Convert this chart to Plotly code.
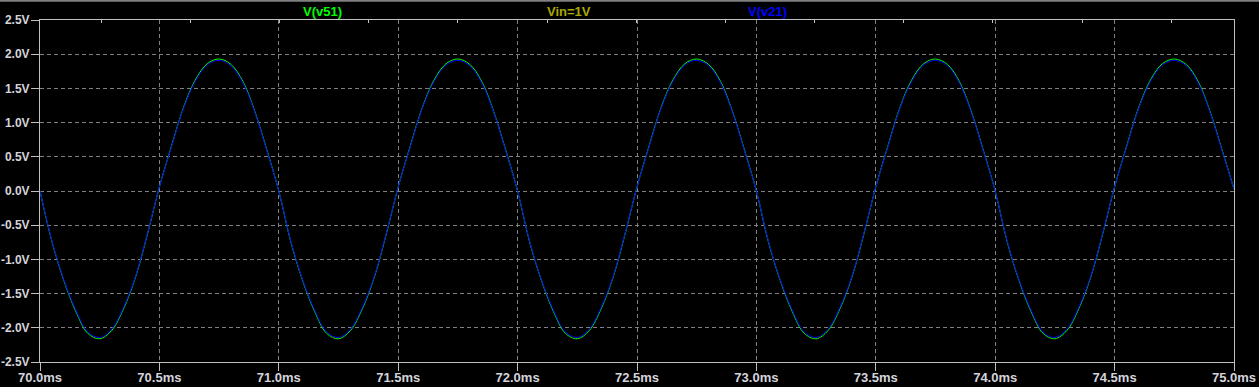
import plotly.graph_objects as go

# sample times (ms), 0.05 ms spacing
time_ms = [round(70.0 + 0.05 * i, 2) for i in range(101)]

# V(v21) (blue)
v21 = [
    0.00, -0.73, -1.30, -1.74, -2.06, -2.14, -2.02, -1.70, -1.25, -0.62,
    0.06, 0.64, 1.20, 1.60, 1.84, 1.91, 1.83, 1.58, 1.15, 0.59,
    0.00, -0.73, -1.30, -1.74, -2.06, -2.14, -2.02, -1.70, -1.25, -0.62,
    0.06, 0.64, 1.20, 1.60, 1.84, 1.91, 1.83, 1.58, 1.15, 0.59,
    0.00, -0.73, -1.30, -1.74, -2.06, -2.14, -2.02, -1.70, -1.25, -0.62,
    0.06, 0.64, 1.20, 1.60, 1.84, 1.91, 1.83, 1.58, 1.15, 0.59,
    0.00, -0.73, -1.30, -1.74, -2.06, -2.14, -2.02, -1.70, -1.25, -0.62,
    0.06, 0.64, 1.20, 1.60, 1.84, 1.91, 1.83, 1.58, 1.15, 0.59,
    0.00, -0.73, -1.30, -1.74, -2.06, -2.14, -2.02, -1.70, -1.25, -0.62,
    0.06, 0.64, 1.20, 1.60, 1.84, 1.91, 1.83, 1.58, 1.15, 0.59,
    0.03,
]

# V(v51) (green), almost identical, slightly larger swing
v51 = [
    0.00, -0.74, -1.31, -1.76, -2.08, -2.16, -2.04, -1.72, -1.26, -0.63,
    0.06, 0.65, 1.21, 1.62, 1.86, 1.93, 1.85, 1.60, 1.16, 0.60,
    0.00, -0.74, -1.31, -1.76, -2.08, -2.16, -2.04, -1.72, -1.26, -0.63,
    0.06, 0.65, 1.21, 1.62, 1.86, 1.93, 1.85, 1.60, 1.16, 0.60,
    0.00, -0.74, -1.31, -1.76, -2.08, -2.16, -2.04, -1.72, -1.26, -0.63,
    0.06, 0.65, 1.21, 1.62, 1.86, 1.93, 1.85, 1.60, 1.16, 0.60,
    0.00, -0.74, -1.31, -1.76, -2.08, -2.16, -2.04, -1.72, -1.26, -0.63,
    0.06, 0.65, 1.21, 1.62, 1.86, 1.93, 1.85, 1.60, 1.16, 0.60,
    0.00, -0.74, -1.31, -1.76, -2.08, -2.16, -2.04, -1.72, -1.26, -0.63,
    0.06, 0.65, 1.21, 1.62, 1.86, 1.93, 1.85, 1.60, 1.16, 0.60,
    0.03,
]

x_tick_vals = [70.0, 70.5, 71.0, 71.5, 72.0, 72.5, 73.0, 73.5, 74.0, 74.5, 75.0]
x_tick_labels = ["70.0ms", "70.5ms", "71.0ms", "71.5ms", "72.0ms", "72.5ms",
                 "73.0ms", "73.5ms", "74.0ms", "74.5ms", "75.0ms"]
y_tick_vals = [2.5, 2.0, 1.5, 1.0, 0.5, 0.0, -0.5, -1.0, -1.5, -2.0, -2.5]
y_tick_labels = ["2.5V", "2.0V", "1.5V", "1.0V", "0.5V", "0.0V",
                 "-0.5V", "-1.0V", "-1.5V", "-2.0V", "-2.5V"]

trace_names = ["V(v51)", "Vin=1V", "V(v21)"]

GRID = "#808080"
FRAME = "#c0c0c0"
LABEL = "#d4d4dc"
XTICKFONT = dict(family="Liberation Sans, Arial, sans-serif", size=13, color=LABEL, weight="bold")
YTICKFONT = dict(family="Liberation Sans, Arial, sans-serif", size=12, color=LABEL, weight="bold")
TITLEFONT_FAM = "Liberation Sans Narrow, Arial Narrow, Liberation Sans, Arial, sans-serif"

fig = go.Figure()
fig.add_trace(go.Scatter(x=time_ms, y=v51, mode="lines", name=trace_names[0],
                         line=dict(color="#00ff00", width=1, shape="spline")))
fig.add_trace(go.Scatter(x=time_ms, y=v21, mode="lines", name=trace_names[2],
                         line=dict(color="#0000ff", width=1, shape="spline")))

fig.update_layout(
    width=1259, height=387,
    margin=dict(l=40, r=25, t=20, b=25, autoexpand=False),
    paper_bgcolor="#000000", plot_bgcolor="#000000",
    showlegend=False,
    xaxis=dict(range=[70, 75], tickvals=x_tick_vals, ticktext=x_tick_labels,
               showgrid=True, gridcolor=GRID, gridwidth=1, griddash="4px,3px",
               zeroline=False, showline=True, linecolor=FRAME, linewidth=1, mirror=True,
               ticks="outside", ticklen=8, tickcolor=FRAME, tickwidth=1, automargin=False,
               ticklabelstandoff=-5,
               tickfont=XTICKFONT, fixedrange=True),
    yaxis=dict(range=[-2.5, 2.5], tickvals=y_tick_vals, ticktext=y_tick_labels,
               showgrid=True, gridcolor=GRID, gridwidth=1, griddash="4px,3px",
               zeroline=False, showline=True, linecolor=FRAME, linewidth=1, mirror=True,
               ticks="outside", ticklen=8, tickcolor=FRAME, tickwidth=1, automargin=False,
               ticklabelstandoff=-1,
               tickfont=YTICKFONT, fixedrange=True),
    xaxis2=dict(overlaying="x", side="top", range=[0, 13.39], tick0=0.686, dtick=1,
                ticks="inside", ticklen=3, tickcolor=FRAME, showticklabels=False,
                showgrid=False, zeroline=False, showline=False, fixedrange=True,
                automargin=False),
)
# invisible trace to activate the top ruler axis
fig.add_trace(go.Scatter(x=[None], y=[None], xaxis="x2", yaxis="y", showlegend=False,
                         hoverinfo="skip"))

label_pos = [0.237, 0.443, 0.6096]
label_colors = ["#00ff00", "#a8a800", "#0000ff"]
for name, xp, col in zip(trace_names, label_pos, label_colors):
    fig.add_annotation(text=name, x=xp, y=1 + 8.5 / 342, xref="paper", yref="paper",
                       xanchor="center", yanchor="middle", showarrow=False,
                       font=dict(family=TITLEFONT_FAM, size=13, color=col, weight="bold"))

# grey window edge at the very top
fig.add_shape(type="rect", xref="paper", yref="paper", x0=-0.05, x1=1.05,
              y0=1 + 18.2 / 342, y1=1 + 21 / 342, line=dict(width=0),
              fillcolor="#808080", layer="above")

fig.write_html(
    "out.html",
    config={"displayModeBar": False, "staticPlot": True},
    post_script="document.body.style.margin='0';document.body.style.padding='0';"
                "document.body.style.background='#000';document.body.style.overflow='hidden';",
)
